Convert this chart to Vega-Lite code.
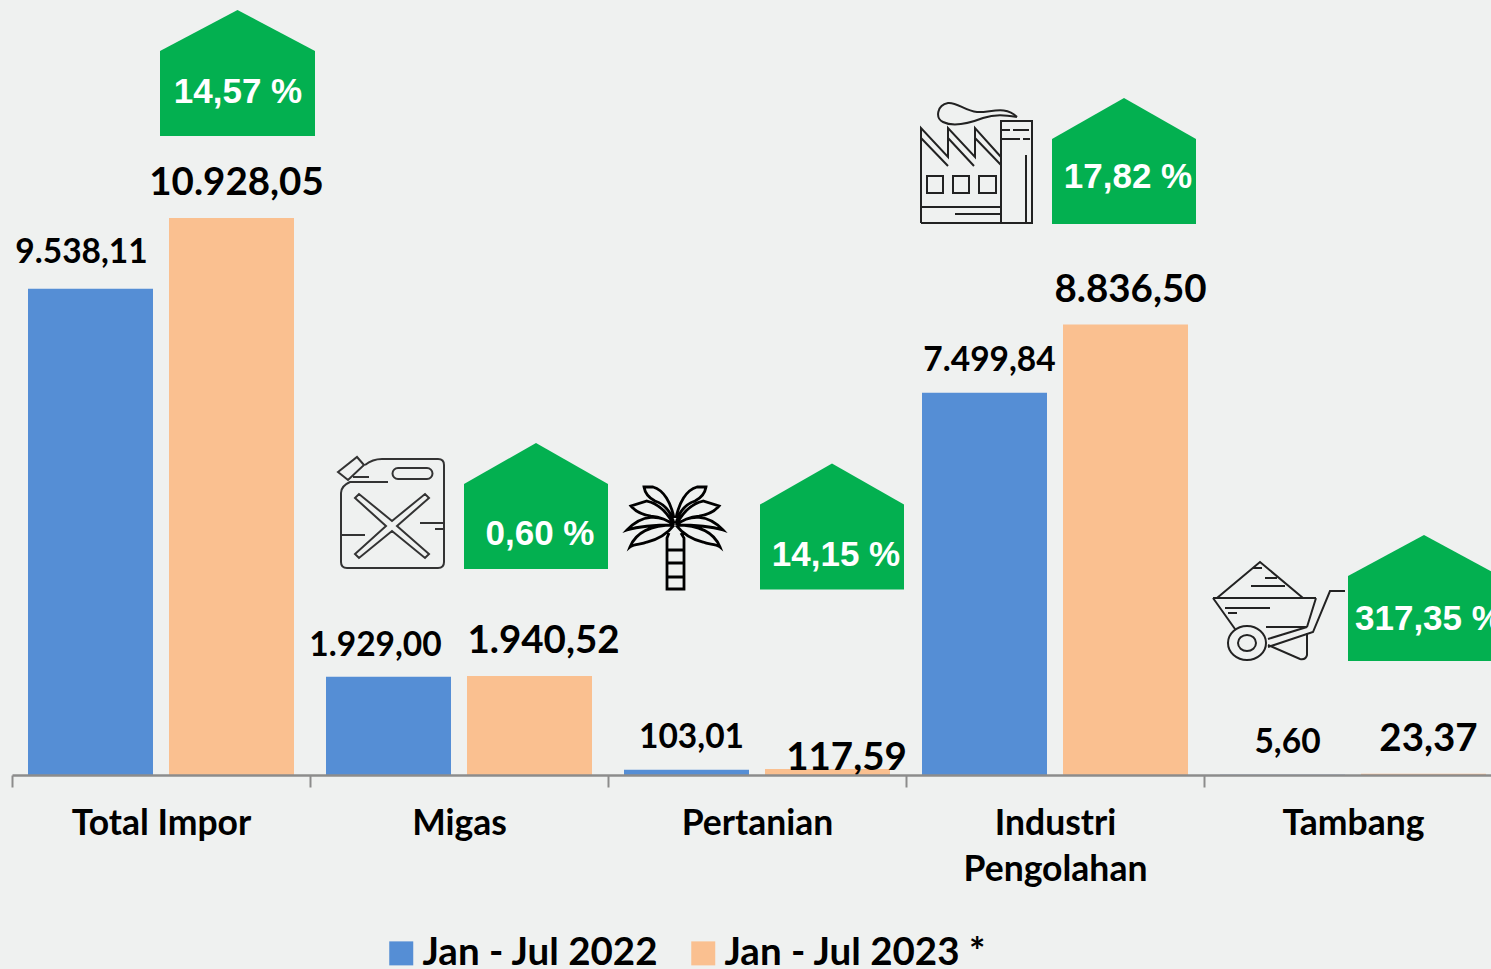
{
"$schema":"https://vega.github.io/schema/vega-lite/v6.json",
"autosize":{"type":"none"},
"width":1479,"height":775,
"padding":{"left":12,"top":0,"right":0,"bottom":194},
"background":"#eff1f0",
"config":{"view":{"stroke":null},"locale":{"number":{"decimal":",","thousands":".","grouping":[3],"currency":["",""]}},"font":"Lato"},
"datasets":{
"imports":[
{"category":"Total Impor","period":"Jan - Jul 2022","value":9538.11},
{"category":"Total Impor","period":"Jan - Jul 2023 *","value":10928.05},
{"category":"Migas","period":"Jan - Jul 2022","value":1929.00},
{"category":"Migas","period":"Jan - Jul 2023 *","value":1940.52},
{"category":"Pertanian","period":"Jan - Jul 2022","value":103.01},
{"category":"Pertanian","period":"Jan - Jul 2023 *","value":117.59},
{"category":"Industri Pengolahan","period":"Jan - Jul 2022","value":7499.84},
{"category":"Industri Pengolahan","period":"Jan - Jul 2023 *","value":8836.50},
{"category":"Tambang","period":"Jan - Jul 2022","value":5.60},
{"category":"Tambang","period":"Jan - Jul 2023 *","value":23.37}],
"growth":[
{"category":"Total Impor","change":"14,57 %","badge":13773},
{"category":"Migas","change":"0,60 %","badge":5278,"icon":5121},
{"category":"Pertanian","change":"14,15 %","badge":4875,"icon":4669},
{"category":"Industri Pengolahan","change":"17,82 %","badge":12046,"icon":11968},
{"category":"Tambang","change":"317,35 %","badge":3473,"icon":3237}]
},
"encoding":{
"x":{"field":"category","type":"nominal","sort":["Total Impor","Migas","Pertanian","Industri Pengolahan","Tambang"],
"scale":{"paddingInner":0,"paddingOuter":0,"range":[0,1490]},
"axis":{"title":null,"zindex":1,"labelAngle":0,"tickBand":"extent","domainColor":"#8c8c8c","domainWidth":2.5,"tickColor":"#8c8c8c","tickWidth":2,"tickSize":12,"labelFont":"Lato","labelFontWeight":"bold","labelFontSize":35.5,"labelColor":"#000000","labelPadding":19,"labelLimit":0,"labelLineHeight":46,"labelExpr":"datum.label == 'Industri Pengolahan' ? ['Industri','Pengolahan'] : datum.label"}}
},
"layer":[
{"data":{"name":"imports"},"mark":{"type":"bar"},
"encoding":{
"xOffset":{"field":"period","type":"nominal","scale":{"paddingInner":0.1135,"paddingOuter":0.1135}},
"y":{"field":"value","type":"quantitative","scale":{"domain":[0,15205],"nice":false},"axis":null},
"color":{"field":"period","type":"nominal","scale":{"domain":["Jan - Jul 2022","Jan - Jul 2023 *"],"range":["#558ed5","#fac090"]},
"legend":{"title":null,"orient":"none","legendX":370,"legendY":934,"direction":"horizontal","symbolType":"square","symbolSize":576,"symbolStrokeWidth":0,"symbolOpacity":1,"labelFont":"Lato","labelFontWeight":"bold","labelFontSize":38.5,"labelColor":"#000000","labelOffset":2,"columnPadding":25,"labelLimit":0}}}},

{"data":{"name":"imports"},"transform":[{"filter":"datum.period == 'Jan - Jul 2022' && datum.category == 'Total Impor'"}],
"mark":{"type":"text","fontSize":33.5,"fontWeight":"bold","color":"#000","dx":-9,"dy":-36,"baseline":"middle"},
"encoding":{"xOffset":{"field":"period","type":"nominal","scale":{"domain":["Jan - Jul 2022","Jan - Jul 2023 *"],"paddingInner":0.1135,"paddingOuter":0.1135}},"y":{"field":"value","type":"quantitative"},"text":{"field":"value","type":"quantitative","format":",.2f"}}},
{"data":{"name":"imports"},"transform":[{"filter":"datum.period == 'Jan - Jul 2022' && datum.category == 'Migas'"}],
"mark":{"type":"text","fontSize":33.5,"fontWeight":"bold","color":"#000","dx":-13,"dy":-31,"baseline":"middle"},
"encoding":{"xOffset":{"field":"period","type":"nominal","scale":{"domain":["Jan - Jul 2022","Jan - Jul 2023 *"],"paddingInner":0.1135,"paddingOuter":0.1135}},"y":{"field":"value","type":"quantitative"},"text":{"field":"value","type":"quantitative","format":",.2f"}}},
{"data":{"name":"imports"},"transform":[{"filter":"datum.period == 'Jan - Jul 2022' && datum.category != 'Migas' && datum.category != 'Total Impor'"}],
"mark":{"type":"text","fontSize":33.5,"fontWeight":"bold","color":"#000","dx":5,"dy":-32,"baseline":"middle"},
"encoding":{"xOffset":{"field":"period","type":"nominal","scale":{"domain":["Jan - Jul 2022","Jan - Jul 2023 *"],"paddingInner":0.1135,"paddingOuter":0.1135}},"y":{"field":"value","type":"quantitative"},"text":{"field":"value","type":"quantitative","format":",.2f"}}},
{"data":{"name":"imports"},"transform":[{"filter":"datum.period != 'Jan - Jul 2022' && datum.category == 'Migas'"}],
"mark":{"type":"text","fontSize":38.5,"fontWeight":"bold","color":"#000","dx":14,"dy":-35,"baseline":"middle"},
"encoding":{"xOffset":{"field":"period","type":"nominal","scale":{"domain":["Jan - Jul 2022","Jan - Jul 2023 *"],"paddingInner":0.1135,"paddingOuter":0.1135}},"y":{"field":"value","type":"quantitative"},"text":{"field":"value","type":"quantitative","format":",.2f"}}},
{"data":{"name":"imports"},"transform":[{"filter":"datum.period != 'Jan - Jul 2022' && datum.category == 'Pertanian'"}],
"mark":{"type":"text","fontSize":38.5,"fontWeight":"bold","color":"#000","dx":19,"dy":-11,"baseline":"middle"},
"encoding":{"xOffset":{"field":"period","type":"nominal","scale":{"domain":["Jan - Jul 2022","Jan - Jul 2023 *"],"paddingInner":0.1135,"paddingOuter":0.1135}},"y":{"field":"value","type":"quantitative"},"text":{"field":"value","type":"quantitative","format":",.2f"}}},
{"data":{"name":"imports"},"transform":[{"filter":"datum.period != 'Jan - Jul 2022' && datum.category != 'Migas' && datum.category != 'Pertanian'"}],
"mark":{"type":"text","fontSize":38.5,"fontWeight":"bold","color":"#000","dx":5,"dy":-35,"baseline":"middle"},
"encoding":{"xOffset":{"field":"period","type":"nominal","scale":{"domain":["Jan - Jul 2022","Jan - Jul 2023 *"],"paddingInner":0.1135,"paddingOuter":0.1135}},"y":{"field":"value","type":"quantitative"},"text":{"field":"value","type":"quantitative","format":",.2f"}}},

{"data":{"name":"growth"},"transform":[{"filter":"datum.category == 'Total Impor'"}],
"mark":{"type":"point","shape":"M-77.5,-22L0,-63L77.5,-22L77.5,63L-77.5,63Z","size":4,"filled":true,"fill":"#03b050","opacity":1,"strokeWidth":0,"xOffset":76.5},
"encoding":{"y":{"field":"badge","type":"quantitative"}}},
{"data":{"name":"growth"},"transform":[{"filter":"datum.category == 'Migas'"}],
"mark":{"type":"point","shape":"M-72,-22L0,-63L72,-22L72,63L-72,63Z","size":4,"filled":true,"fill":"#03b050","opacity":1,"strokeWidth":0,"xOffset":77},
"encoding":{"y":{"field":"badge","type":"quantitative"}}},
{"data":{"name":"growth"},"transform":[{"filter":"datum.category == 'Pertanian'"}],
"mark":{"type":"point","shape":"M-72,-22L0,-63L72,-22L72,63L-72,63Z","size":4,"filled":true,"fill":"#03b050","opacity":1,"strokeWidth":0,"xOffset":75},
"encoding":{"y":{"field":"badge","type":"quantitative"}}},
{"data":{"name":"growth"},"transform":[{"filter":"datum.category == 'Industri Pengolahan'"}],
"mark":{"type":"point","shape":"M-72,-22L0,-63L72,-22L72,63L-72,63Z","size":4,"filled":true,"fill":"#03b050","opacity":1,"strokeWidth":0,"xOffset":69},
"encoding":{"y":{"field":"badge","type":"quantitative"}}},
{"data":{"name":"growth"},"transform":[{"filter":"datum.category == 'Tambang'"}],
"mark":{"type":"point","shape":"M-76,-22L0,-63L76,-22L76,63L-76,63Z","size":4,"filled":true,"fill":"#03b050","opacity":1,"strokeWidth":0,"xOffset":71},
"encoding":{"y":{"field":"badge","type":"quantitative"}}},

{"data":{"name":"growth"},"transform":[{"filter":"datum.category == 'Total Impor'"}],
"mark":{"type":"text","font":"Liberation Sans","fontWeight":"bold","fontSize":35,"color":"#fff","baseline":"middle","dx":77,"dy":19},
"encoding":{"y":{"field":"badge","type":"quantitative"},"text":{"field":"change"}}},
{"data":{"name":"growth"},"transform":[{"filter":"datum.category == 'Migas'"}],
"mark":{"type":"text","font":"Liberation Sans","fontWeight":"bold","fontSize":35,"color":"#fff","baseline":"middle","dx":81,"dy":28},
"encoding":{"y":{"field":"badge","type":"quantitative"},"text":{"field":"change"}}},
{"data":{"name":"growth"},"transform":[{"filter":"datum.category == 'Pertanian'"}],
"mark":{"type":"text","font":"Liberation Sans","fontWeight":"bold","fontSize":35,"color":"#fff","baseline":"middle","dx":79,"dy":28.5},
"encoding":{"y":{"field":"badge","type":"quantitative"},"text":{"field":"change"}}},
{"data":{"name":"growth"},"transform":[{"filter":"datum.category == 'Industri Pengolahan'"}],
"mark":{"type":"text","font":"Liberation Sans","fontWeight":"bold","fontSize":35,"color":"#fff","baseline":"middle","dx":73,"dy":16},
"encoding":{"y":{"field":"badge","type":"quantitative"},"text":{"field":"change"}}},
{"data":{"name":"growth"},"transform":[{"filter":"datum.category == 'Tambang'"}],
"mark":{"type":"text","font":"Liberation Sans","fontWeight":"bold","fontSize":35,"color":"#fff","baseline":"middle","align":"left","dx":2,"dy":21},
"encoding":{"y":{"field":"badge","type":"quantitative"},"text":{"field":"change"}}},

{"data":{"name":"growth"},"transform":[{"filter":"datum.category == 'Migas'"}],
"mark":{"type":"point","size":4,"filled":false,"stroke":"#333333","strokeWidth":2,"opacity":1,"xOffset":-67,
"shape":"M-27,-49C-22,-53 -16,-55 -10,-55L46,-55Q52,-55 52,-49L52,48Q52,54 46,54L-45,54Q-51,54 -51,48L-51,-21Q-51,-28 -42,-32L-4,-32M-39,-37L-23,-37M-54,-42L-35,-57L-28,-49L-44,-34ZM6,-46L35,-46A5.5,5.5 0 0 1 35,-35L6,-35A5.5,5.5 0 0 1 6,-46ZM-37,-16L-33,-20L0,7L33,-20L37,-16L5,12L37,40L33,44L0,17L-33,44L-37,40L-6,12ZM28,9L51,9M43,15L51,15M-51,21L-27,21"},
"encoding":{"y":{"field":"icon","type":"quantitative"}}},
{"data":{"name":"growth"},"transform":[{"filter":"datum.category == 'Pertanian'"}],
"mark":{"type":"point","size":4,"filled":false,"stroke":"#000000","strokeWidth":2.8,"opacity":1,"xOffset":-82,
"shape":"M-1,-19C-4,-34 -11,-47 -22,-50L-31,-50C-30,-44 -26,-39 -20,-36C-11,-33 -4,-25 -1,-14M-1,-12C-8,-25 -18,-34 -28,-36L-44,-31C-39,-25 -32,-22 -24,-21C-14,-20 -6,-16 -1,-12M-1,-12C-15,-23 -33,-23 -48,-7C-35,-11 -15,-12 -1,-12M-1,-12C-15,-12 -37,-10 -45,10C-40,6 -34,8 -28,5C-16,2 -8,-3 -1,-12M1,-19C4,-34 11,-47 22,-50L31,-50C30,-44 26,-39 20,-36C11,-33 4,-25 1,-14M1,-12C8,-25 18,-34 28,-36L44,-31C39,-25 32,-22 24,-21C14,-20 6,-16 1,-12M1,-12C15,-23 33,-23 48,-7C35,-11 15,-12 1,-12M1,-12C15,-12 37,-10 45,10C40,6 34,8 28,5C16,2 8,-3 1,-12M-6,-4L-8,1L-8,52L9,52L9,1L6,-4M-8,13L9,13M-8,26L9,26M-8,40L9,40"},
"encoding":{"y":{"field":"icon","type":"quantitative"}}},
{"data":{"name":"growth"},"transform":[{"filter":"datum.category == 'Industri Pengolahan'"}],
"mark":{"type":"point","size":4,"filled":false,"stroke":"#222222","strokeWidth":2,"opacity":1,"xOffset":-80,
"shape":"M-54,58L-54,-37L-27,-8L-27,-37L0,-8L0,-37L26,-8M-54,-27L-27,1M-27,-27L-1,1M0,-27L26,0M26,58L26,-44L57,-44L57,58L-54,58M26,-35L35,-35M38,-35L54,-35M26,-26L45,-26M48,-26L55,-26M51,-10L51,58M-54,42L26,42M-20,49L26,49M-48,11L-32,11L-32,28L-48,28ZM-22,11L-6,11L-6,28L-22,28ZM4,11L21,11L21,28L4,28ZM42,-48C30,-60 15,-52 2,-53C-10,-54 -18,-63 -27,-62C-38,-60 -40,-47 -32,-43C-22,-38 -5,-42 8,-47C20,-51 30,-50 42,-48"},
"encoding":{"y":{"field":"icon","type":"quantitative"}}},
{"data":{"name":"growth"},"transform":[{"filter":"datum.category == 'Tambang'"}],
"mark":{"type":"point","size":4,"filled":false,"stroke":"#222222","strokeWidth":2,"opacity":1,"xOffset":-78,
"shape":"M-58,-12L-15,-48L28,-12M-62,-12L41,-12M-62,-12L-40,19M41,-12L32,17M-50,-2L-5,-2M-47,3L-38,3M-9,17L32,17M-22,-42L-13,-42M-10,-32L2,-32M-24,-24L10,-24M70,-19L55,-19L38,22L-7,37M32,17L-7,29M32,23L32,45Q31,50 25,49L-7,35M-47,33A19,17 0 1 0 -9,33A19,17 0 1 0 -47,33ZM-37,33A9,8 0 1 0 -19,33A9,8 0 1 0 -37,33Z"},
"encoding":{"y":{"field":"icon","type":"quantitative"}}}
]
}
